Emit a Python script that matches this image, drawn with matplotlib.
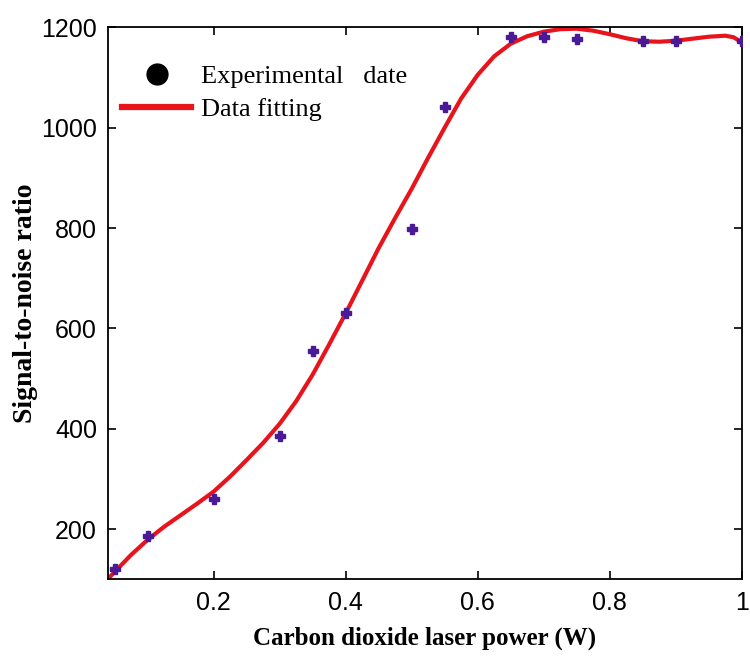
import numpy as np
import matplotlib.pyplot as plt
from matplotlib.lines import Line2D

# experimental points
power = [0.05, 0.1, 0.2, 0.3, 0.35, 0.4, 0.5, 0.55, 0.65, 0.7, 0.75, 0.85, 0.9, 1.0]
snr = [120, 186, 260, 386, 556, 630, 798, 1041, 1180, 1180, 1176, 1172, 1172, 1172]

# fitted curve
fit_x = [0.042, 0.05, 0.075, 0.1, 0.125, 0.15, 0.175, 0.2, 0.225, 0.25, 0.275,
         0.3, 0.325, 0.35, 0.375, 0.4, 0.425, 0.45, 0.475, 0.5, 0.525, 0.55,
         0.575, 0.6, 0.625, 0.65, 0.675, 0.7, 0.725, 0.75, 0.775, 0.8, 0.825,
         0.85, 0.875, 0.9, 0.925, 0.95, 0.975, 0.9875, 1.0]
fit_y = [104, 115, 149, 179, 205, 228, 251, 275, 305, 338, 372,
         410, 455, 508, 568, 630, 695, 760, 820, 878, 940, 1000,
         1058, 1105, 1142, 1167, 1182, 1191, 1196, 1197, 1193, 1186, 1178,
         1172, 1171, 1173, 1177, 1181, 1183, 1180, 1170]

serif = ['Liberation Serif', 'DejaVu Serif']
sans = ['Liberation Sans', 'DejaVu Sans']

fig = plt.figure(figsize=(7.5, 6.63), dpi=100)
ax = fig.add_axes([0.144, 0.126, 0.845, 0.833])

ax.plot(fit_x, fit_y, '-', color='#e8141c', lw=3, zorder=2, solid_joinstyle='round')
ax.plot(power, snr, 'P', color='#4a1a96', ms=6.5, mec='#4a1a96', zorder=3)

ax.set_xlim(0.04, 1.0)
ax.set_ylim(100, 1200)
ax.set_xticks([0.2, 0.4, 0.6, 0.8, 1.0])
ax.set_xticklabels(['0.2', '0.4', '0.6', '0.8', '1'])
ax.set_yticks([200, 400, 600, 800, 1000, 1200])
ax.tick_params(direction='in', top=True, right=True, length=6, width=1.2,
               labelsize=18, pad=8)
for lab in ax.get_xticklabels() + ax.get_yticklabels():
    lab.set_family(sans)
for s in ax.spines.values():
    s.set_linewidth(1.3)

ax.set_xlabel('Carbon dioxide laser power (W)', fontsize=18, fontweight='bold',
              family=serif, labelpad=9)
ax.set_ylabel('Signal-to-noise ratio', fontsize=20, fontweight='bold',
              family=serif, labelpad=2)

handles = [Line2D([], [], ls='none', marker='o', color='black', ms=15),
           Line2D([], [], color='#e8141c', lw=4.5)]
ax.legend(handles, ['Experimental   date', 'Data fitting'], loc='upper left',
          bbox_to_anchor=(-0.015, 0.975), frameon=False, handlelength=2.6,
          handletextpad=0.4, labelspacing=0.35, prop={'family': serif, 'size': 19})

fig.savefig('out.png', dpi=100)
